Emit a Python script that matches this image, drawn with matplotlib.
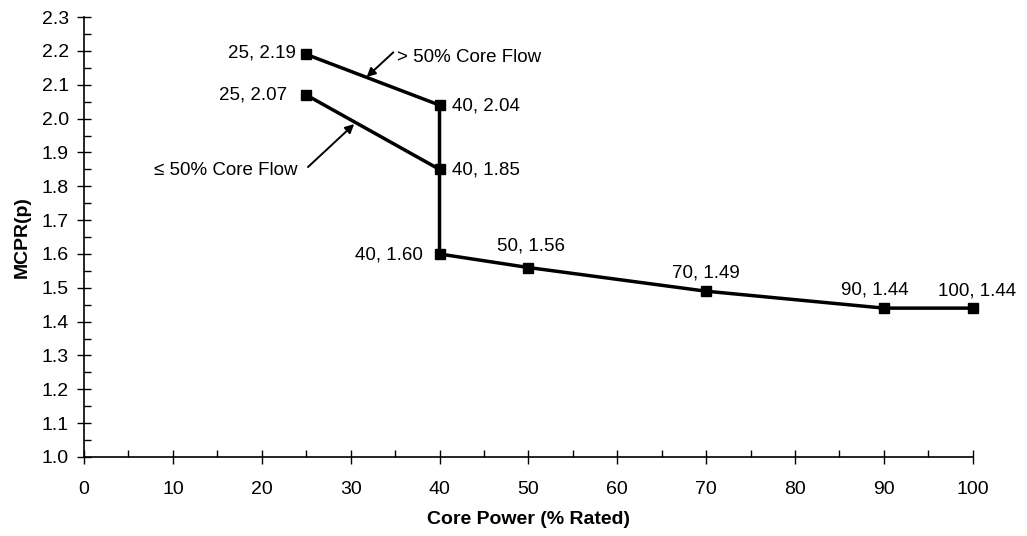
import matplotlib
matplotlib.use("Agg")
import matplotlib.pyplot as plt
from matplotlib.ticker import MultipleLocator

plt.rcParams['font.family'] = ['Liberation Sans', 'DejaVu Sans']

# > 50% core flow line (continues down to the full-power tail)
hi_x = [25, 40, 40, 50, 70, 90, 100]
hi_y = [2.19, 2.04, 1.60, 1.56, 1.49, 1.44, 1.44]
# <= 50% core flow line
lo_x = [25, 40]
lo_y = [2.07, 1.85]

# point labels
lbl_x = [25, 25, 40, 40, 40, 50, 70, 90, 100]
lbl_y = [2.19, 2.07, 2.04, 1.85, 1.60, 1.56, 1.49, 1.44, 1.44]
lbl_txt = ["25, 2.19", "25, 2.07", "40, 2.04", "40, 1.85", "40, 1.60",
           "50, 1.56", "70, 1.49", "90, 1.44", "100, 1.44"]
# offsets in pixels and alignment
lbl_off = [(-10, 1), (-19, 0), (12, -1), (12, -1), (-17, -1),
           (3, 22), (0, 18), (-9, 18), (4, 17)]
lbl_ha = ["right", "right", "left", "left", "right",
          "center", "center", "center", "center"]

fig = plt.figure(figsize=(10.27, 5.36), dpi=100)
ax = fig.add_axes([0.0818, 0.1474, 0.8654, 0.8206])

ax.plot(hi_x, hi_y, color='black', lw=2.5, marker='s', ms=6.5, zorder=3,
        clip_on=False)
ax.plot(lo_x, lo_y, color='black', lw=2.5, marker='s', ms=6.5, zorder=3,
        clip_on=False)

for x, y, t, off, ha in zip(lbl_x, lbl_y, lbl_txt, lbl_off, lbl_ha):
    ax.annotate(t, (x, y), xytext=off, textcoords='offset pixels',
                ha=ha, va='center', fontsize=13.5)

# series callouts
arr = dict(arrowstyle='-|>', color='black', lw=1.4, mutation_scale=13,
           shrinkA=0, shrinkB=0)
ax.annotate("", xy=(31.8, 2.123), xytext=(34.8, 2.196), arrowprops=arr)
ax.text(35.2, 2.182, "> 50% Core Flow", fontsize=13.5, ha='left', va='center')
ax.annotate("", xy=(30.4, 1.984), xytext=(25.2, 1.857), arrowprops=arr)
ax.text(24.0, 1.848, "≤ 50% Core Flow", fontsize=13.5, ha='right', va='center')

ax.set_xlim(0, 100)
ax.set_ylim(1.0, 2.3)
ax.xaxis.set_major_locator(MultipleLocator(10))
ax.xaxis.set_minor_locator(MultipleLocator(5))
ax.yaxis.set_major_locator(MultipleLocator(0.1))
ax.yaxis.set_minor_locator(MultipleLocator(0.05))
ax.yaxis.set_major_formatter(matplotlib.ticker.FormatStrFormatter('%.1f'))

ax.spines['top'].set_visible(False)
ax.spines['right'].set_visible(False)
ax.spines['left'].set_linewidth(1.2)
ax.spines['bottom'].set_linewidth(1.2)

ax.tick_params(which='major', direction='inout', length=10, width=1,
               labelsize=14)
ax.tick_params(which='minor', direction='in', length=5, width=1)
ax.tick_params(axis='x', which='major', pad=12)
ax.tick_params(axis='y', which='major', pad=6)

ax.set_xlabel("Core Power (% Rated)", fontsize=14, fontweight='bold',
              labelpad=10)
ax.set_ylabel("MCPR(p)", fontsize=14, fontweight='bold', labelpad=8)

fig.savefig("out.png", dpi=100)
